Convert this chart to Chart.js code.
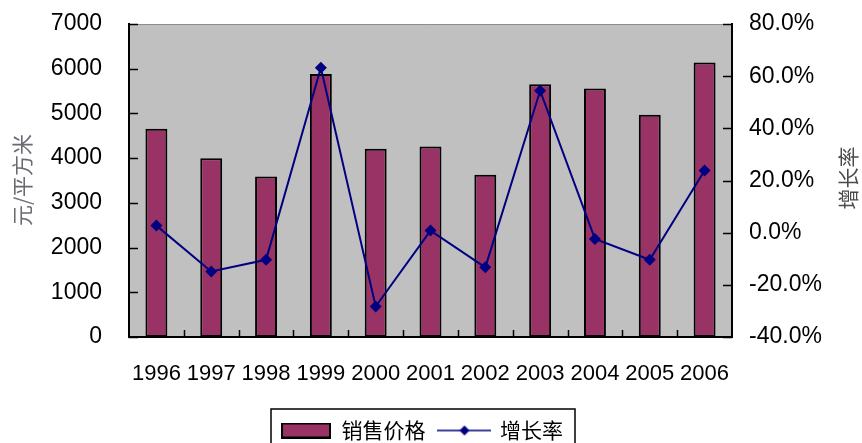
<!DOCTYPE html>
<html>
<head>
<meta charset="utf-8">
<script src="https://cdn.jsdelivr.net/npm/chart.js@4.4.1/dist/chart.umd.min.js"></script>
<style>
  html, body { margin: 0; padding: 0; background: #fff; overflow: hidden; }
  #wrap { width: 862px; height: 451px; }
</style>
</head>
<body>
<div id="wrap"><canvas id="chart"></canvas></div>
<script>
const years = ["1996", "1997", "1998", "1999", "2000", "2001", "2002", "2003", "2004", "2005", "2006"];
const salePrice = [4660, 4000, 3590, 5880, 4210, 4260, 3630, 5650, 5560, 4970, 6140];
const growthRate = [2.7, -14.9, -10.4, 63.2, -28.3, 0.8, -13.3, 54.4, -2.4, -10.4, 23.8];
const leftTicks = [0, 1000, 2000, 3000, 4000, 5000, 6000, 7000];
const rightTicks = [-40, -20, 0, 20, 40, 60, 80];

const latin = '"Liberation Sans", Arial, sans-serif';
const cjk = '"Noto Sans CJK SC", "Liberation Sans", sans-serif';

// legend icons
const makeIcon = (w, h, draw) => {
    const c = document.createElement('canvas');
    c.width = w; c.height = h;
    draw(c.getContext('2d'));
    return c;
};
const barIcon = makeIcon(50, 16, g => {
    g.fillStyle = '#993366';
    g.fillRect(1, 1, 48, 14);
    g.strokeStyle = '#000';
    g.lineWidth = 2;
    g.strokeRect(1, 1, 48, 14);
});
const lineIcon = makeIcon(54, 12, g => {
    g.strokeStyle = '#000080';
    g.lineWidth = 1.5;
    g.beginPath(); g.moveTo(0, 6); g.lineTo(54, 6); g.stroke();
    g.fillStyle = '#000080';
    g.beginPath(); g.moveTo(27, 1); g.lineTo(32, 6); g.lineTo(27, 11); g.lineTo(22, 6); g.closePath(); g.fill();
});

const plotBg = {
    id: 'plotBg',
    beforeDraw(chart) {
        const {ctx, chartArea: a} = chart;
        ctx.save();
        ctx.fillStyle = '#c0c0c0';
        ctx.fillRect(a.left, a.top, a.right - a.left, a.bottom - a.top);
        ctx.strokeStyle = '#8c8c8c';
        ctx.lineWidth = 1;
        ctx.beginPath();
        ctx.moveTo(a.left, a.top + 0.5);
        ctx.lineTo(a.right, a.top + 0.5);
        ctx.stroke();
        ctx.restore();
    },
    afterDraw(chart) {
        const {ctx, chartArea: a, scales} = chart;
        ctx.save();
        ctx.strokeStyle = '#000';
        ctx.lineWidth = 1.5;
        ctx.beginPath();
        leftTicks.forEach(v => {
            const y = Math.round(scales.y.getPixelForValue(v)) + 0.5;
            ctx.moveTo(a.left, y); ctx.lineTo(a.left + 9, y);
        });
        rightTicks.forEach(v => {
            const y = Math.round(scales.y1.getPixelForValue(v)) + 0.5;
            ctx.moveTo(a.right, y); ctx.lineTo(a.right - 9, y);
        });
        for (let i = 1; i < years.length; i++) {
            const x = Math.round(scales.x.getPixelForValue(i - 0.5)) + 0.5;
            ctx.moveTo(x, a.bottom); ctx.lineTo(x, a.bottom - 7);
        }
        ctx.stroke();

        // axis titles
        ctx.font = '21px ' + cjk;
        ctx.textAlign = 'center';
        ctx.textBaseline = 'middle';
        ctx.fillStyle = '#6a6a72';
        ctx.translate(22, 180);
        ctx.rotate(-Math.PI / 2);
        ctx.fillText('元/平方米', 0, 0);
        ctx.setTransform(1, 0, 0, 1, 0, 0);
        ctx.fillStyle = '#4a4a4a';
        ctx.translate(848, 178);
        ctx.rotate(-Math.PI / 2);
        ctx.fillText('增长率', 0, 0);
        ctx.setTransform(1, 0, 0, 1, 0, 0);

        // legend frame
        const boxes = chart.legend.legendHitBoxes;
        if (boxes && boxes.length) {
            const l = boxes[0].left - 10;
            const last = boxes[boxes.length - 1];
            const r = last.left + last.width + 12;
            const t = boxes[0].top - 11;
            ctx.strokeStyle = '#000';
            ctx.lineWidth = 1.5;
            ctx.strokeRect(l, t, r - l, 60);
        }
        ctx.restore();
    }
};

new Chart(document.getElementById('chart'), {
    data: {
        labels: years,
        datasets: [
            {
                type: 'line',
                label: '增长率',
                data: growthRate,
                yAxisID: 'y1',
                borderColor: '#000080',
                backgroundColor: '#000080',
                borderWidth: 2,
                pointStyle: 'rectRot',
                pointRadius: 6,
                pointBorderWidth: 0,
                tension: 0
            },
            {
                type: 'bar',
                label: '销售价格',
                data: salePrice,
                yAxisID: 'y',
                backgroundColor: '#993366',
                borderColor: '#000',
                borderWidth: 2,
                borderSkipped: false,
                categoryPercentage: 1,
                barPercentage: 0.4
            }
        ]
    },
    options: {
        responsive: true,
        maintainAspectRatio: false,
        animation: false,
        layout: { padding: { top: 24, left: 0, right: 18, bottom: 0 } },
        plugins: {
            tooltip: { enabled: false },
            legend: {
                position: 'bottom',
                labels: {
                    usePointStyle: true,
                    pointStyleWidth: 50,
                    padding: 14,
                    color: '#000',
                    font: { family: cjk, size: 21 },
                    generateLabels: () => [
                        { text: '销售价格', pointStyle: barIcon, fillStyle: '#993366', strokeStyle: '#000', lineWidth: 0, hidden: false, datasetIndex: 1 },
                        { text: '增长率', pointStyle: lineIcon, fillStyle: '#000080', strokeStyle: '#000080', lineWidth: 0, hidden: false, datasetIndex: 0 }
                    ]
                }
            }
        },
        scales: {
            x: {
                grid: { display: false, drawTicks: true, tickLength: 21 },
                border: { display: true, color: '#000', width: 2 },
                ticks: { color: '#000', font: { family: latin, size: 22 }, padding: 3, autoSkip: false, maxRotation: 0 },
                afterFit: s => { s.height = 69; }
            },
            y: {
                position: 'left',
                min: 0, max: 7000,
                grid: { display: false, drawTicks: true, tickLength: 24 },
                border: { display: true, color: '#000', width: 2 },
                ticks: { stepSize: 1000, color: '#000', font: { family: latin, size: 23 }, padding: 3, callback: v => String(v) },
                afterFit: s => { s.width = 129; }
            },
            y1: {
                position: 'right',
                min: -40, max: 80,
                grid: { display: false, drawTicks: true, tickLength: 14 },
                border: { display: true, color: '#000', width: 2 },
                ticks: { stepSize: 20, color: '#000', font: { family: latin, size: 23 }, padding: 3, callback: v => v.toFixed(1) + '%' },
                afterFit: s => { s.width = 112; }
            }
        }
    },
    plugins: [plotBg]
});
</script>
</body>
</html>
